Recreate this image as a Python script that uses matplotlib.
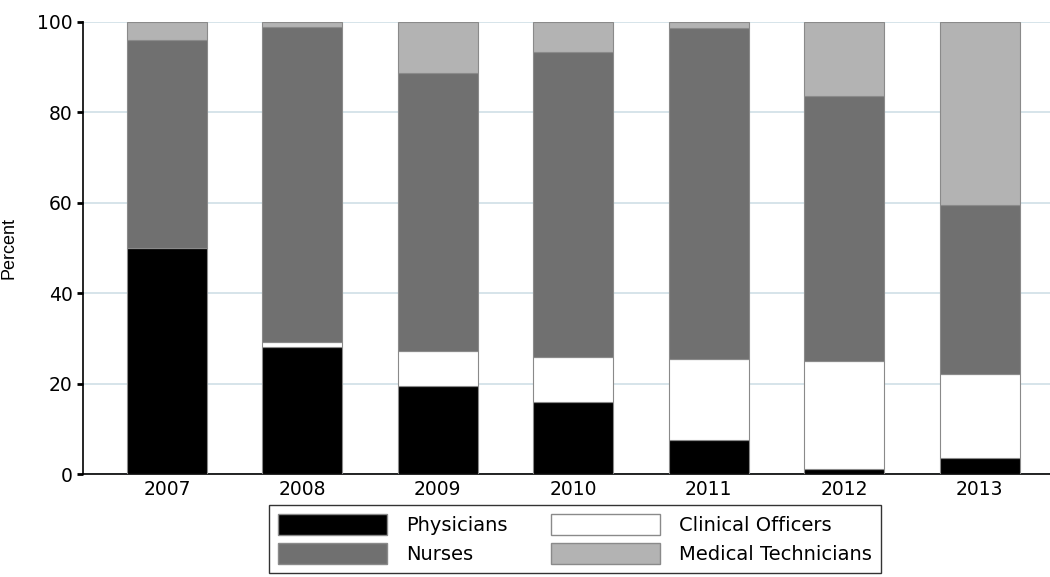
import numpy as np
import matplotlib
matplotlib.use("Agg")
import matplotlib.pyplot as plt
from matplotlib.patches import Patch

years = ["2007", "2008", "2009", "2010", "2011", "2012", "2013"]
physicians = [50.0, 28.0, 19.5, 15.9, 7.5, 1.2, 3.5]
clinical_officers = [0.0, 1.1, 7.8, 9.9, 18.0, 23.8, 18.6]
nurses = [46.0, 69.8, 61.5, 67.6, 73.1, 58.7, 37.5]
medical_technicians = [4.0, 1.1, 11.2, 6.6, 1.4, 16.3, 40.4]

series = [
    ("Physicians", physicians, "#000000"),
    ("Clinical Officers", clinical_officers, "#ffffff"),
    ("Nurses", nurses, "#707070"),
    ("Medical Technicians", medical_technicians, "#b3b3b3"),
]

fig = plt.figure(figsize=(10.5, 5.77), dpi=100)
ax = fig.add_axes([83 / 1050, 103 / 577, 1 - 83 / 1050, 452 / 577])

x = np.arange(len(years))
bottom = np.zeros(len(years))
for name, vals, col in series:
    ax.bar(x, vals, width=0.59, bottom=bottom, color=col,
           edgecolor="#8a8a8a", linewidth=0.8, zorder=3)
    bottom += np.array(vals)

ax.set_xlim(-0.62, 6.52)
ax.set_ylim(0, 100)
ax.set_yticks([0, 20, 40, 60, 80, 100])
ax.set_xticks(x)
ax.set_xticklabels(years)
ax.yaxis.grid(True, color="#d6e4ea", linewidth=1.4, zorder=0)
ax.tick_params(axis="y", length=4, width=2, direction="out", labelsize=13.5)
ax.tick_params(axis="x", length=0, labelsize=13.5, pad=4)
for lab in ax.get_xticklabels() + ax.get_yticklabels():
    lab.set_family("DejaVu Sans")

ax.spines["top"].set_visible(False)
ax.spines["right"].set_visible(False)
ax.spines["left"].set_linewidth(1.2)
ax.spines["bottom"].set_linewidth(1.2)
ax.set_ylabel("Percent", fontsize=13, family="Liberation Sans", labelpad=14)

handles = [
    Patch(facecolor="#000000", edgecolor="#8a8a8a", label="Physicians"),
    Patch(facecolor="#707070", edgecolor="#8a8a8a", label="Nurses"),
    Patch(facecolor="#ffffff", edgecolor="#8a8a8a", label="Clinical Officers"),
    Patch(facecolor="#b3b3b3", edgecolor="#8a8a8a", label="Medical Technicians"),
]
leg = fig.legend(handles=handles, ncol=2, loc="center",
                 bbox_to_anchor=(575 / 1050, 1 - 539 / 577),
                 prop={"family": "DejaVu Sans", "size": 14},
                 handlelength=5.6, handleheight=1.3, handletextpad=1.0,
                 columnspacing=2.2, labelspacing=0.4,
                 frameon=True, fancybox=False, edgecolor="black",
                 borderpad=0.45, borderaxespad=0)
leg.get_frame().set_linewidth(1.0)

fig.savefig("out.png", dpi=100)
